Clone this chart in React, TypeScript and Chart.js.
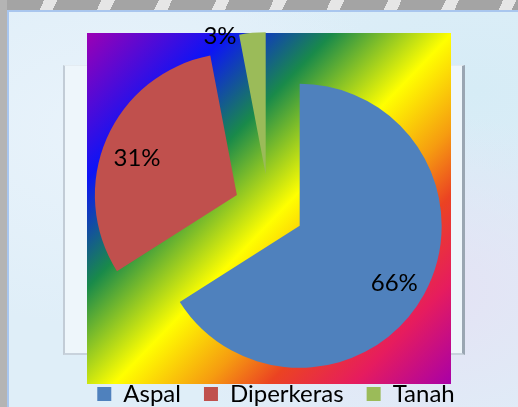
import React, { useEffect, useRef } from "react";
import { Chart, registerables } from "chart.js";

Chart.register(...registerables);

// ---- data ----
const categories = ["Aspal", "Diperkeras", "Tanah"];
const values = [66, 31, 3];
const sliceColors = ["#4F81BD", "#C0504D", "#9BBB59"];

// ---- label placement (fraction of radius, angle nudge in degrees) ----
const labelRadius = [0.78, 0.75, 1.02];
const labelAngleShift = [2.5, -3, -13];

// ---- styling constants ----
const EXPLODE = 35;
const RADIUS = 142;
const FONT = "Lato, 'Open Sans', sans-serif";
const FONT_SIZE = 24;
const GRAD = { left: 87, top: 33, right: 451, bottom: 384 };
const gradStops: [number, string][] = [
  [0, "#9C00B4"],
  [0.2, "#0C14F6"],
  [0.35, "#198A4A"],
  [0.52, "#FFFF00"],
  [0.65, "#F69C10"],
  [0.74, "#EB4322"],
  [0.86, "#E61C5E"],
  [1, "#A800A8"],
];
const LEGEND_SHIFT = 7;

const gradientPlugin = {
  id: "gradientBg",
  beforeDraw(chart: any) {
    const ctx = chart.ctx;
    const g = ctx.createLinearGradient(GRAD.left, GRAD.top, GRAD.right, GRAD.bottom);
    gradStops.forEach(([o, c]) => g.addColorStop(o, c));
    ctx.save();
    ctx.fillStyle = g;
    ctx.fillRect(GRAD.left, GRAD.top, GRAD.right - GRAD.left, GRAD.bottom - GRAD.top);
    ctx.restore();
  },
};

const explodePlugin = {
  id: "explode",
  afterDatasetsUpdate(chart: any) {
    const meta = chart.getDatasetMeta(0);
    meta.data.forEach((arc: any) => {
      const mid = (arc.startAngle + arc.endAngle) / 2;
      arc.x += Math.cos(mid) * EXPLODE;
      arc.y += Math.sin(mid) * EXPLODE;
    });
  },
};

const labelPlugin = {
  id: "sliceLabels",
  afterDatasetsDraw(chart: any) {
    const ctx = chart.ctx;
    const meta = chart.getDatasetMeta(0);
    const data = chart.data.datasets[0].data as number[];
    const total = data.reduce((a, b) => a + b, 0);
    ctx.save();
    ctx.font = `${FONT_SIZE}px ${FONT}`;
    ctx.fillStyle = "#000";
    ctx.textAlign = "center";
    ctx.textBaseline = "middle";
    meta.data.forEach((arc: any, i: number) => {
      const mid = (arc.startAngle + arc.endAngle) / 2 + (labelAngleShift[i] * Math.PI) / 180;
      const r = arc.outerRadius * labelRadius[i];
      const x = arc.x + Math.cos(mid) * r;
      const y = arc.y + Math.sin(mid) * r;
      ctx.fillText(`${Math.round((data[i] / total) * 100)}%`, x, y);
    });
    ctx.restore();
  },
};

const legendShiftPlugin = {
  id: "legendShift",
  afterLayout(chart: any) {
    const l = chart.legend;
    if (l) {
      l.left += LEGEND_SHIFT;
      l.right += LEGEND_SHIFT;
    }
  },
};

export default function App() {
  const ref = useRef<HTMLCanvasElement | null>(null);

  useEffect(() => {
    if (!ref.current) return;
    const chart = new Chart(ref.current, {
      type: "pie",
      data: {
        labels: categories,
        datasets: [
          {
            data: values,
            backgroundColor: sliceColors,
            borderWidth: 0,
            radius: RADIUS,
            clip: false,
          } as any,
        ],
      },
      options: {
        responsive: false,
        animation: false,
        devicePixelRatio: 1,
        layout: { padding: { left: 40, right: 20, top: 59, bottom: 0 } },
        plugins: {
          tooltip: { enabled: false },
          legend: {
            position: "bottom",
            labels: {
              boxWidth: 14,
              boxHeight: 14,
              padding: 23,
              color: "#000",
              font: { family: FONT, size: FONT_SIZE },
            },
          },
        },
      } as any,
      plugins: [gradientPlugin, explodePlugin, labelPlugin, legendShiftPlugin],
    });
    return () => chart.destroy();
  }, []);

  return (
    <div
      style={{
        position: "absolute",
        left: 0,
        top: 0,
        width: 518,
        height: 407,
        overflow: "hidden",
        background: "#dcedf7",
      }}
    >
      {/* gray header strip */}
      <div
        style={{
          position: "absolute",
          left: 0,
          top: 0,
          width: 518,
          height: 10,
          background:
            "repeating-linear-gradient(115deg, #a4a4a4 0px, #a4a4a4 40px, #e6e6e6 40px, #e6e6e6 52px)",
        }}
      />
      <div
        style={{
          position: "absolute",
          left: 0,
          top: 0,
          width: 7,
          height: 407,
          background: "#b4b4b4",
        }}
      />
      {/* light-blue frame */}
      <div
        style={{
          position: "absolute",
          left: 7,
          top: 10,
          width: 520,
          height: 400,
          borderTop: "2px solid #a9c6ee",
          borderLeft: "2px solid #a9c6ee",
          background:
            "radial-gradient(ellipse at 20% 30%, #e9f3fb 0%, rgba(233,243,251,0) 50%), radial-gradient(ellipse at 80% 70%, #e4e2f4 0%, rgba(228,226,244,0) 45%), radial-gradient(ellipse at 90% 20%, #d6ecf6 0%, rgba(214,236,246,0) 40%), #dfeef8",
        }}
      />
      {/* faded inner frame */}
      <div
        style={{
          position: "absolute",
          left: 63,
          top: 65,
          width: 397,
          height: 287,
          borderLeft: "2px solid #c2ccd6",
          borderRight: "3px solid #9aa6b2",
          borderTop: "1px solid #e4ecf2",
          borderBottom: "2px solid #c8d2dc",
          background: "#eef6fb",
        }}
      />
      <canvas
        ref={ref}
        width={518}
        height={416}
        style={{ position: "absolute", left: 0, top: 0, width: 518, height: 416, display: "block" }}
      />
    </div>
  );
}
